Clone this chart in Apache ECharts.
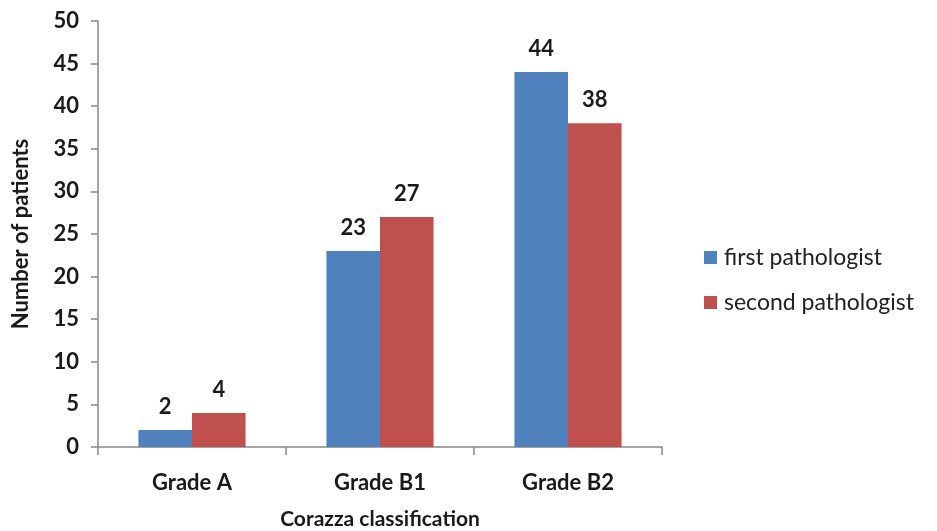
<!DOCTYPE html>
<html><head><meta charset="utf-8">
<script src="https://cdn.jsdelivr.net/npm/echarts@6/dist/echarts.min.js"></script>
<style>html,body{margin:0;padding:0;background:#fff}#c{width:937px;height:531px}</style>
</head><body><div id="c"></div>
<script>
const categories = ['Grade A', 'Grade B1', 'Grade B2'];
const firstPathologist = [2, 23, 44];
const secondPathologist = [4, 27, 38];
const yTicks = [0, 50, 5];
const FONT = 'Lato';
const chart = echarts.init(document.getElementById('c'));
const labelStyle = {show: true, position: 'top', distance: 12, fontFamily: FONT, fontWeight: 'bold', fontSize: 22, color: '#1a1a1a'};
chart.setOption({
  animation: false,
  textStyle: {fontFamily: FONT},
  grid: {left: 98, right: 275, top: 21, bottom: 84, containLabel: false, outerBoundsMode: 'none'},
  legend: {
    orient: 'vertical', left: 699, top: 241, itemGap: 22, itemWidth: 13, itemHeight: 13,
    icon: 'rect',
    textStyle: {fontFamily: FONT, fontSize: 23, color: '#222', padding: [0, 0, 0, 2]},
    data: ['first pathologist', 'second pathologist']
  },
  xAxis: {
    type: 'category', data: categories,
    name: 'Corazza classification', nameLocation: 'middle', nameGap: 62,
    nameTextStyle: {fontFamily: FONT, fontWeight: 'bold', fontSize: 21, color: '#1a1a1a'},
    axisLine: {lineStyle: {color: '#888', width: 1.5}},
    axisTick: {show: true, length: 8, lineStyle: {color: '#888', width: 1.5}},
    axisLabel: {margin: 25, fontFamily: FONT, fontWeight: 'bold', fontSize: 22, color: '#1a1a1a'}
  },
  yAxis: {
    type: 'value', min: yTicks[0], max: yTicks[1], interval: yTicks[2],
    name: 'Number of patients', nameLocation: 'middle', nameGap: 66, nameRotate: 90,
    nameTextStyle: {fontFamily: FONT, fontWeight: 'bold', fontSize: 22, color: '#1a1a1a'},
    axisLine: {show: true, lineStyle: {color: '#888', width: 1.5}},
    axisTick: {show: true, length: 7, lineStyle: {color: '#888', width: 1.5}},
    splitLine: {show: false},
    axisLabel: {margin: 19, fontFamily: FONT, fontWeight: 'bold', fontSize: 22, color: '#1a1a1a'}
  },
  series: [
    {name: 'first pathologist', type: 'bar', data: firstPathologist, barGap: '0%', barCategoryGap: '43%',
     itemStyle: {color: '#4F81BD'}, label: labelStyle},
    {name: 'second pathologist', type: 'bar', data: secondPathologist, barGap: '0%', barCategoryGap: '43%',
     itemStyle: {color: '#C0504D'}, label: labelStyle}
  ]
});
</script></body></html>
